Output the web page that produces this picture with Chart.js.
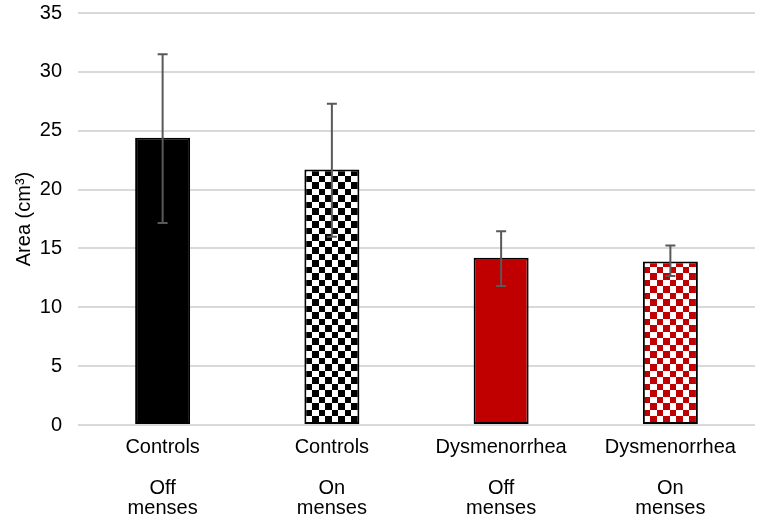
<!DOCTYPE html>
<html>
<head>
<meta charset="utf-8">
<script src="https://cdn.jsdelivr.net/npm/chart.js@4/dist/chart.umd.min.js"></script>
<style>
  html, body { margin: 0; padding: 0; background: #fff; }
  #wrap { width: 765px; height: 522px; }
</style>
</head>
<body>
<div id="wrap"><canvas id="areaChart"></canvas></div>
<script>
const groupLabels = [
    ['Controls', '', 'Off', 'menses'],
    ['Controls', '', 'On', 'menses'],
    ['Dysmenorrhea', '', 'Off', 'menses'],
    ['Dysmenorrhea', '', 'On', 'menses']
];
const meanArea = [24.4, 21.7, 14.2, 13.9];
const errLow = [17.15, 16.0, 11.8, 12.65];
const errHigh = [31.5, 27.3, 16.45, 15.25];

// checkerboard fill like the Excel pattern
function checker(color) {
    const c = document.createElement('canvas');
    c.width = 13;
    c.height = 13;
    const g = c.getContext('2d');
    g.fillStyle = '#ffffff';
    g.fillRect(0, 0, 13, 13);
    g.fillStyle = color;
    g.fillRect(0, 0, 7, 7);
    g.fillRect(7, 7, 6, 6);
    return g.createPattern(c, 'repeat');
}

const errorBars = {
    id: 'errorBars',
    afterDatasetsDraw(chart) {
        const ctx = chart.ctx;
        const y = chart.scales.y;
        const meta = chart.getDatasetMeta(0);
        ctx.save();
        ctx.strokeStyle = '#595959';
        ctx.lineWidth = 2;
        meta.data.forEach((bar, i) => {
            const top = y.getPixelForValue(errHigh[i]);
            const bottom = y.getPixelForValue(errLow[i]);
            ctx.beginPath();
            ctx.moveTo(bar.x, top);
            ctx.lineTo(bar.x, bottom);
            ctx.moveTo(bar.x - 5, top);
            ctx.lineTo(bar.x + 5, top);
            ctx.moveTo(bar.x - 5, bottom);
            ctx.lineTo(bar.x + 5, bottom);
            ctx.stroke();
        });
        ctx.restore();
    }
};

const ctx = document.getElementById('areaChart').getContext('2d');
new Chart(ctx, {
    type: 'bar',
    data: {
        labels: groupLabels,
        datasets: [{
            data: meanArea,
            backgroundColor: ['#000000', checker('#000000'), '#c00000', checker('#c00000')],
            borderColor: '#000000',
            borderWidth: 2,
            borderSkipped: false,
            categoryPercentage: 1,
            barPercentage: 0.325
        }]
    },
    options: {
        responsive: true,
        maintainAspectRatio: false,
        animation: false,
        layout: { padding: { top: 13, right: 10, left: 0, bottom: 0 } },
        plugins: {
            legend: { display: false },
            tooltip: { enabled: false }
        },
        scales: {
            x: {
                grid: { display: false },
                border: { display: false },
                ticks: {
                    color: '#000',
                    font: { family: 'Liberation Sans, Arial', size: 20, lineHeight: 1.02 },
                    padding: 4,
                    maxRotation: 0
                },
                afterFit(scale) { scale.height = 97; }
            },
            y: {
                min: 0,
                max: 35,
                ticks: {
                    stepSize: 5,
                    color: '#000',
                    font: { family: 'Liberation Sans, Arial', size: 20 },
                    padding: 16
                },
                grid: { color: '#d9d9d9', lineWidth: 2, drawTicks: false },
                border: { display: false },
                title: {
                    display: true,
                    text: 'Area (cm³)',
                    color: '#000',
                    font: { family: 'Liberation Sans, Arial', size: 20 },
                    padding: { top: 12, bottom: 0 }
                },
                afterFit(scale) {
                    scale.width = 78;
                    scale.paddingTop = 0;
                    scale.paddingBottom = 0;
                }
            }
        }
    },
    plugins: [errorBars]
});
</script>
</body>
</html>
